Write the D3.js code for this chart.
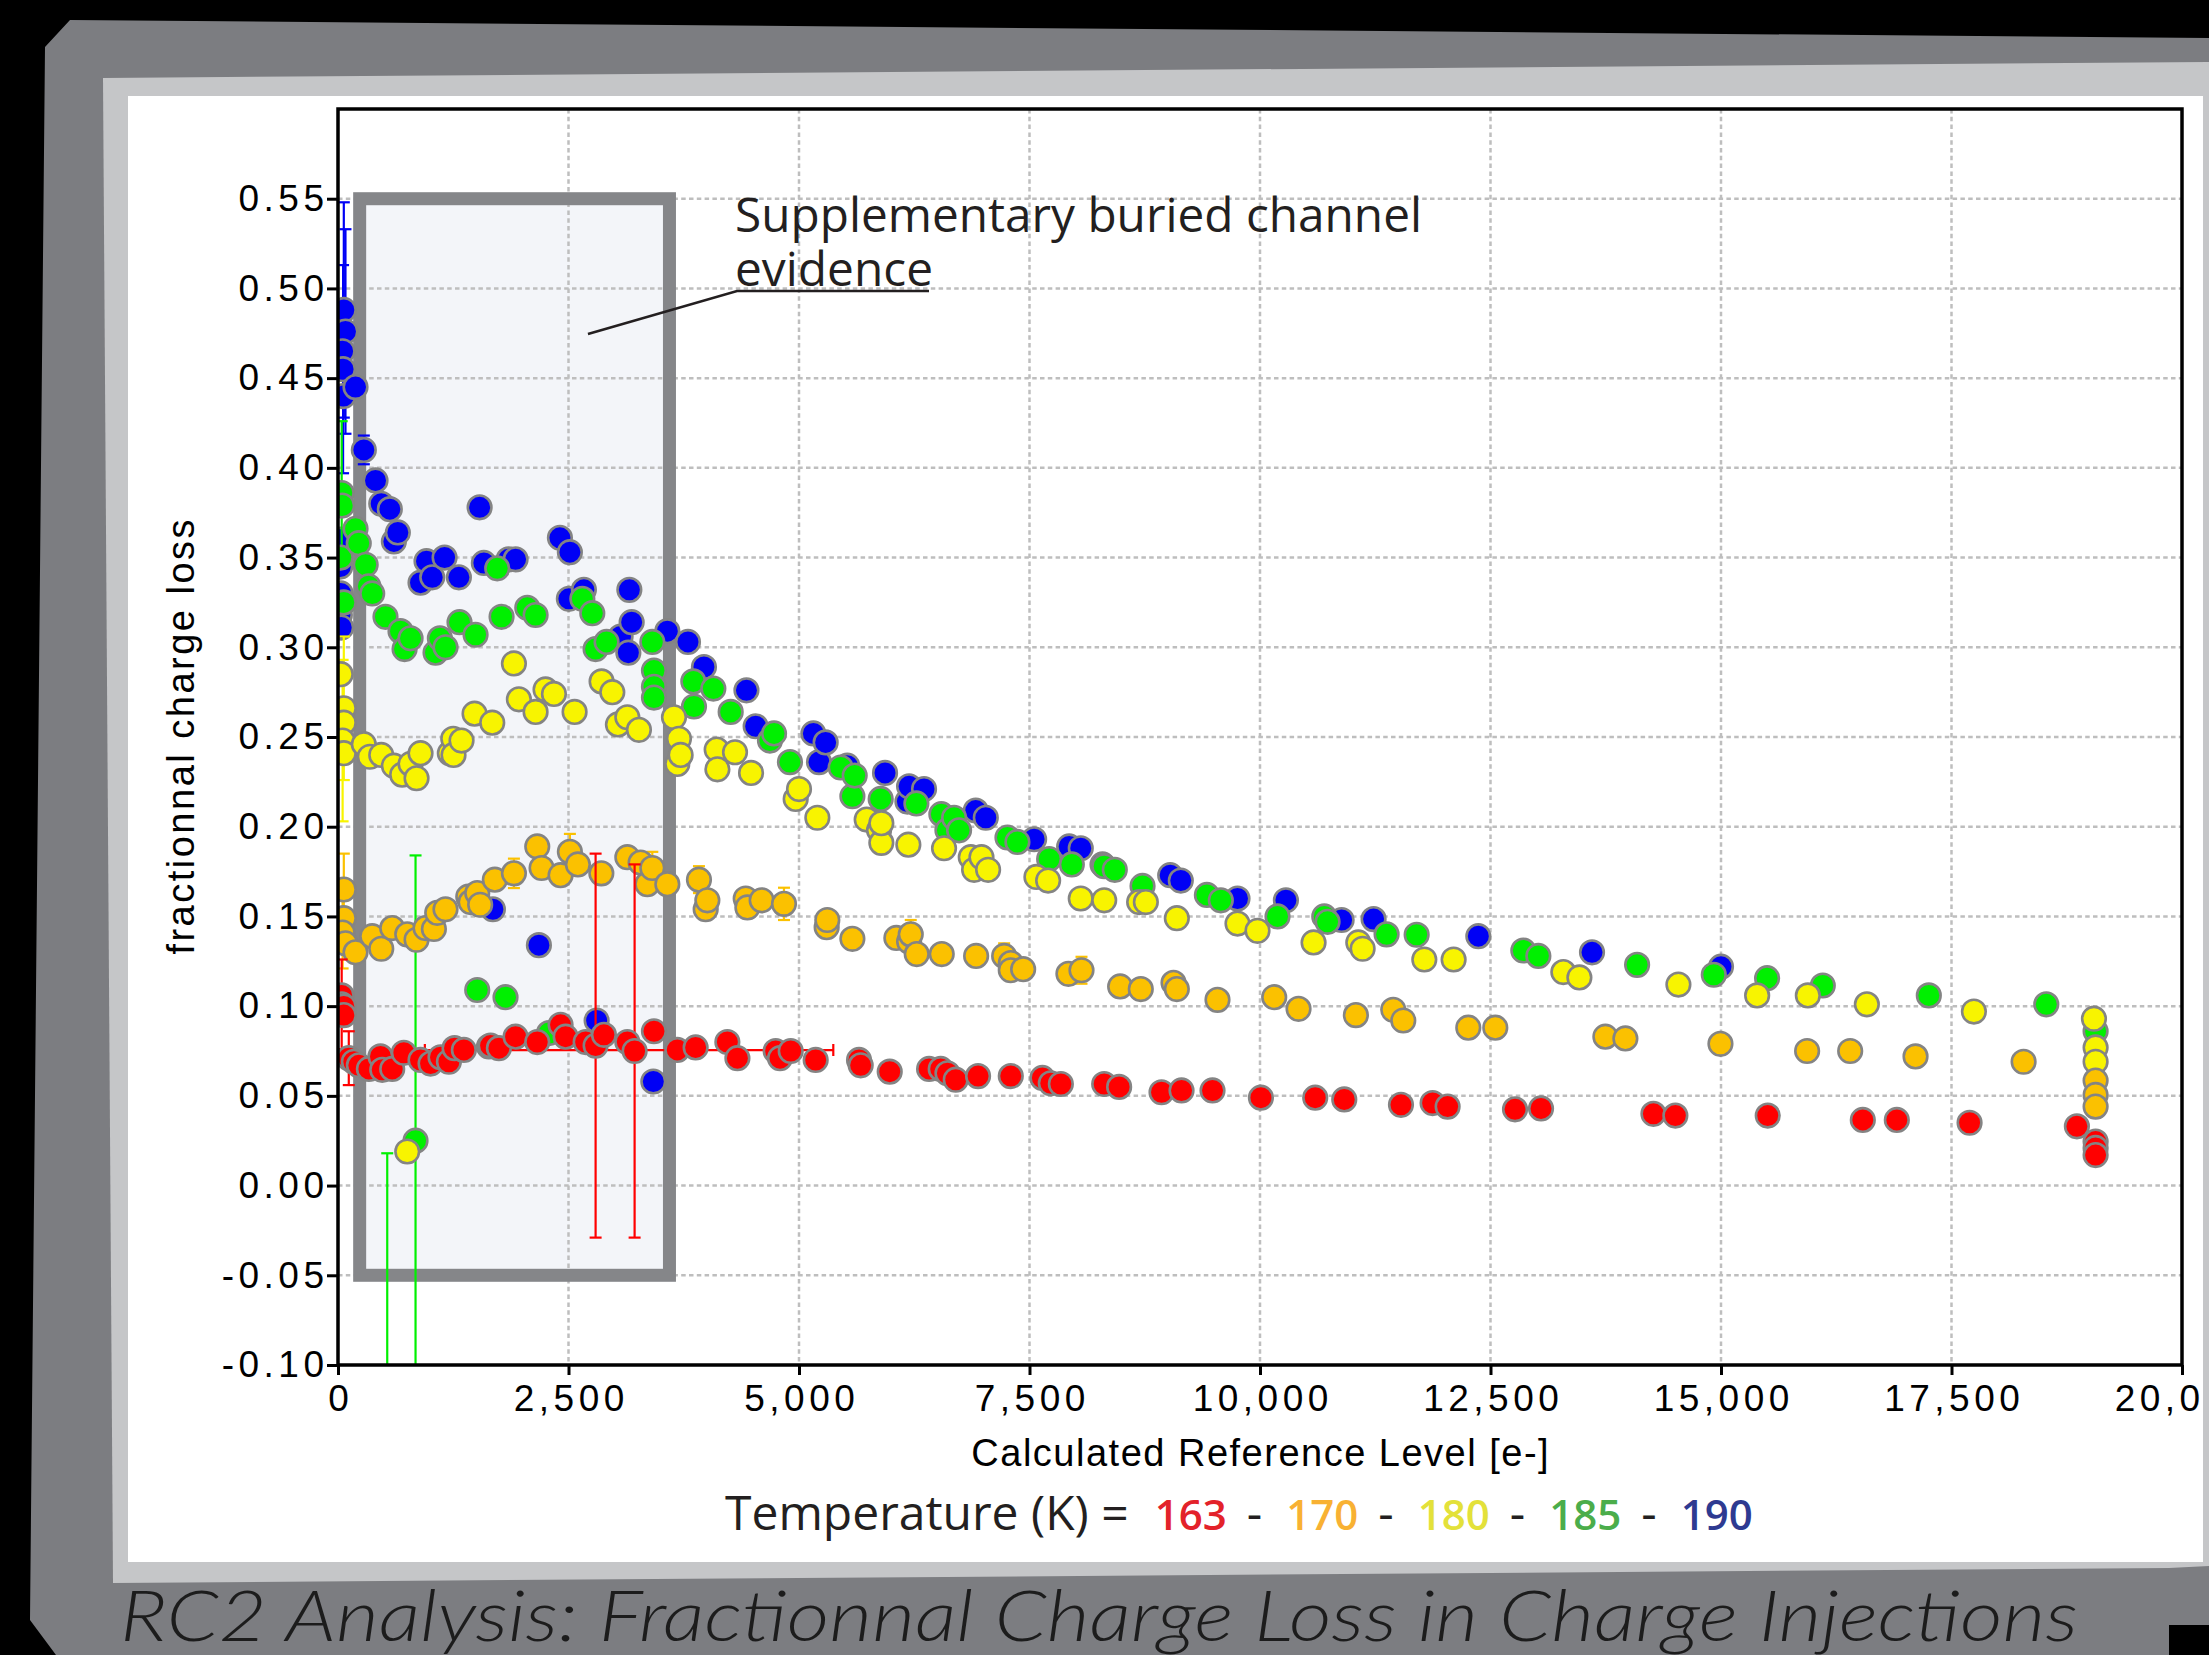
<!DOCTYPE html>
<html>
<head>
<meta charset="utf-8">
<script src="https://cdn.jsdelivr.net/npm/d3@7"></script>
<style>
  body { margin: 0; background: #000; }
  svg { display: block; }
</style>
</head>
<body>
<script>
// temperatures (K) and their colours
var temps = ["163", "170", "180", "185", "190"];
var dotColors = ["#ff0000", "#fbc100", "#f8f400", "#00f000", "#0000f5"];
var keyColors = ["#e3222a", "#f8b133", "#e3e13a", "#4bad4b", "#2e3a91"];

var xTicks = [0, 2500, 5000, 7500, 10000, 12500, 15000, 17500, 20000];
var yTicks = [-0.10, -0.05, 0.00, 0.05, 0.10, 0.15, 0.20, 0.25, 0.30, 0.35, 0.40, 0.45, 0.50, 0.55];

// [reference level (e-), fractional charge loss, error]
var k190 = [
  [20,0.318],[25,0.345],[30,0.33],[30,0.36],[35,0.311],
  [63,0.488,0.06],[81,0.476,0.057],[50,0.465],[55,0.455,0.058],[60,0.44],[190,0.445],
  [280,0.41,0.008],[407,0.393],[469,0.38],[562,0.377],[606,0.359],[649,0.364],
  [895,0.336],[960,0.348],[1022,0.339],[1156,0.350],[1311,0.339],[1536,0.378],[1582,0.347],
  [1850,0.349],[1926,0.349],[2407,0.361],[2504,0.327],[2515,0.353],[2667,0.332],
  [3065,0.306],[3149,0.297],[3160,0.332],[3185,0.314],[3572,0.309],[3796,0.303],[3969,0.289],
  [4430,0.276],[4530,0.256],[1680,0.154],[2179,0.134],[2805,0.092],[3420,0.058],
  [5156,0.252],[5217,0.236],[5289,0.247],[5524,0.234],[5933,0.230],[6176,0.214],[6194,0.2225],[6356,0.221],
  [6917,0.209],[7026,0.205],[7550,0.193],[7930,0.189],[8056,0.188],[8292,0.179],[9026,0.173],[9141,0.170],
  [9756,0.160],[10281,0.159],[10885,0.148],[11232,0.1485],[12368,0.139],[13601,0.130],[15000,0.122]
];
var k185 = [
  [30,0.350],[40,0.386,0.04],[45,0.379],[63,0.325],[190,0.366],[225,0.358],[300,0.346],[330,0.334],[371,0.330],
  [515,0.317],[678,0.309],[722,0.299],[787,0.305],[1058,0.297],[1105,0.305],[1166,0.300],[1318,0.314],[1492,0.307],
  [1727,0.344],[1774,0.317],[2053,0.322],[2143,0.318],[2650,0.327],[2758,0.319],[2794,0.299],[2913,0.303],
  [3409,0.303],[3427,0.287],[3427,0.278],[3427,0.272],[3854,0.281],[3861,0.267],[4071,0.277],[4259,0.264],
  [1510,0.109],[1817,0.105],[841,0.025,0.159],[534,-0.14,0.158],[2288,0.085],
  [4685,0.248],[4729,0.252],[4902,0.236],[5452,0.233],[5579,0.217],[5604,0.2285],[5886,0.2155],[6273,0.213],
  [6544,0.207],[6610,0.198],[6682,0.205],[6736,0.198],[7261,0.194],[7369,0.1915],[7713,0.182],[7959,0.179],
  [8310,0.178],[8425,0.176],[8726,0.167],[9424,0.162],[9575,0.159],[10190,0.150],[10697,0.150],[10733,0.147],
  [11373,0.140],[11699,0.1398],[12856,0.131],[13019,0.128],[14090,0.123],[14922,0.1175],[15500,0.1156],
  [16104,0.1115],[17254,0.106],[18528,0.101],[19063,0.086]
];
var k180 = [
  [30,0.285],[63,0.266,0.04],[63,0.258],[50,0.248,0.045],[63,0.241],[280,0.246],[345,0.239],[469,0.240],[606,0.234],
  [696,0.229],[787,0.235],[852,0.227],[895,0.241],[1213,0.241],[1250,0.249],[1253,0.240],[1340,0.248],[1481,0.263],
  [1673,0.258],[1908,0.291],[1962,0.271],[2143,0.264],[2251,0.2765],[2342,0.274],[2566,0.264],[2859,0.281],
  [2975,0.275],[3036,0.257],[3138,0.261],[3264,0.254],[3644,0.261],[3680,0.235],[3698,0.249],[3716,0.240],
  [4107,0.243],[4115,0.232],[4306,0.2415],[4480,0.230],[751,0.019],
  [4964,0.2155],[5000,0.221],[5199,0.205],[5734,0.204],[5868,0.198],[5893,0.191],[5893,0.202],[6186,0.190],
  [6573,0.188],[6863,0.183],[6899,0.176],[6979,0.183],[7051,0.176],[7575,0.172],[7702,0.170],[8056,0.160],
  [8310,0.159],[8689,0.158],[8762,0.158],[9098,0.149],[9756,0.146],[9973,0.142],[10581,0.1355],[11066,0.1355],
  [11113,0.132],[11782,0.126],[12100,0.126],[13290,0.119],[13464,0.116],[14538,0.112],[15392,0.106],[15942,0.106],
  [16582,0.101],[17743,0.097],[19045,0.093],[19063,0.077],[19063,0.069]
];
var k170 = [
  [63,0.165,0.02],[63,0.149],[50,0.141,0.02],[80,0.135],[190,0.130],[371,0.139],[469,0.132],[588,0.1435],[751,0.140],
  [852,0.137],[949,0.1435],[1040,0.143],[1076,0.152],[1166,0.154],[1413,0.161],[1438,0.158],[1510,0.163],[1542,0.1565],
  [1701,0.1705],[1908,0.174,0.0082],[2161,0.189],[2208,0.177],[2414,0.173],[2515,0.186,0.01],[2602,0.179],[2856,0.174],
  [3138,0.183],[3282,0.180],[3355,0.168],[3409,0.177,0.009],[3572,0.168],[3915,0.1705,0.0075],[3988,0.154],[4006,0.159],
  [4422,0.160],[4440,0.155],[4595,0.159],[4837,0.157,0.009],[5300,0.144],[5307,0.148],[5579,0.1375],[6056,0.138],
  [6194,0.136],[6212,0.140,0.008],[6277,0.129],[6548,0.129],[6921,0.128],[7225,0.128,0.007],[7297,0.124],[7297,0.120],
  [7431,0.1206],[7922,0.118],[8064,0.120,0.0075],[8483,0.111],[8707,0.1095],[9062,0.113],[9098,0.1095],[9539,0.1035],
  [10154,0.105],[10418,0.0985],[11040,0.095],[11445,0.098],[11554,0.092],[12259,0.088],[12552,0.088],[13746,0.083],
  [13963,0.082],[14994,0.079],[15934,0.075],[16401,0.075],[17110,0.072],[18282,0.069],[19063,0.0585],[19063,0.0505],
  [19063,0.044]
];
var k163 = [
  [40,0.106],[40,0.101,0.025],[63,0.0998],[63,0.095],[117,0.071,0.015],[172,0.069],[226,0.067],[335,0.065],[461,0.072],
  [480,0.0645],[588,0.065],[714,0.074],[895,0.070],[1004,0.068],[1112,0.0715],[1203,0.069],[1264,0.0766],[1365,0.0756],
  [1637,0.0775],[1655,0.078],[1745,0.0766],[1926,0.083],[2161,0.080],[2414,0.0896],[2469,0.083],[2686,0.080],
  [2794,0.078,0.107],[2884,0.084],[3138,0.080],[3217,0.075,0.104],[3427,0.086],[3680,0.0756],[3879,0.077],[4223,0.080],
  [4332,0.071],[4747,0.075],[4794,0.071],[4910,0.075],[5181,0.070],[5651,0.070],[5669,0.067],[5984,0.0635],[6411,0.065],
  [6537,0.065],[6610,0.0626],[6700,0.059],[6942,0.061],[7297,0.061],[7640,0.060],[7731,0.057],[7840,0.0566],[8310,0.0566],
  [8472,0.055],[8932,0.052],[9149,0.053],[9485,0.053],[10010,0.049],[10599,0.049],[10914,0.048],[11529,0.045],[11872,0.046],
  [12035,0.044],[12766,0.0425],[13048,0.043],[14267,0.040],[14505,0.039],[15507,0.039],[16538,0.0366],[16907,0.0366],
  [17696,0.035],[18860,0.033],[19063,0.0245],[19063,0.021],[19063,0.017]
];
// horizontal error bar of the 163 K run: [centre, loss, half width]
var k163xErr = [[3157, 0.0755, 2215]];

var series = [k163, k170, k180, k185, k190];

var margin = {top: 109, right: 27, bottom: 290, left: 338},
    width = 2209 - margin.left - margin.right,
    height = 1655 - margin.top - margin.bottom;

var svg = d3.select("body").append("svg")
    .attr("width", 2209)
    .attr("height", 1655);

// paper frame
svg.append("rect").attr("width", 2209).attr("height", 1655).attr("fill", "#000");
svg.append("polygon")
    .attr("points", "70,20 2209,38 2209,1625 2169,1625 2169,1655 56,1655 30,1620 45,47")
    .attr("fill", "#7c7d81");
svg.append("polygon")
    .attr("points", "103,78 2209,62 2209,1566 2169,1568 113,1583")
    .attr("fill", "#c5c6c8");
svg.append("rect")
    .attr("x", 128).attr("y", 96)
    .attr("width", 2075).attr("height", 1466)
    .attr("fill", "#fff");

var g = svg.append("g")
    .attr("transform", "translate(" + margin.left + "," + margin.top + ")");

var x = d3.scaleLinear().domain([0, 20000]).range([0, width]);
var y = d3.scaleLinear().domain([-0.10, 0.60]).range([height, 0]);

g.append("clipPath").attr("id", "plotclip")
  .append("rect").attr("width", width).attr("height", height);

// highlighted region (in data units)
var box = {x0: 235, x1: 3595, y0: -0.05, y1: 0.55};
g.append("rect")
    .attr("x", x(box.x0)).attr("y", y(box.y1))
    .attr("width", x(box.x1) - x(box.x0))
    .attr("height", y(box.y0) - y(box.y1))
    .attr("fill", "#f3f5f9");

// gridlines
g.append("g").selectAll("line")
    .data(xTicks.slice(1, -1))
    .enter().append("line")
    .attr("x1", function(d) { return x(d); })
    .attr("x2", function(d) { return x(d); })
    .attr("y1", 0).attr("y2", height)
    .attr("stroke", "#bebebe").attr("stroke-width", 2.5)
    .attr("stroke-dasharray", "4.5,3.3");
g.append("g").selectAll("line")
    .data(yTicks.slice(1))
    .enter().append("line")
    .attr("x1", 0).attr("x2", width)
    .attr("y1", function(d) { return y(d); })
    .attr("y2", function(d) { return y(d); })
    .attr("stroke", "#bebebe").attr("stroke-width", 2.5)
    .attr("stroke-dasharray", "4.5,3.3");

g.append("rect")
    .attr("x", x(box.x0)).attr("y", y(box.y1))
    .attr("width", x(box.x1) - x(box.x0))
    .attr("height", y(box.y0) - y(box.y1))
    .attr("fill", "none")
    .attr("stroke", "#858689").attr("stroke-width", 13);

// annotation
var note = g.append("g").attr("fill", "#231f20")
    .style("font-family", "'Open Sans', 'Noto Sans', sans-serif")
    .style("font-size", "47px");
note.append("text")
    .attr("x", x(4306)).attr("y", y(0.5314))
    .attr("textLength", 687).attr("lengthAdjust", "spacingAndGlyphs")
    .text("Supplementary buried channel");
note.append("text")
    .attr("x", x(4306)).attr("y", y(0.5014))
    .attr("textLength", 198).attr("lengthAdjust", "spacingAndGlyphs")
    .text("evidence");
g.append("path")
    .attr("d", d3.line()([[x(2711), y(0.4746)], [x(4328), y(0.4986)], [x(6410), y(0.4986)]]))
    .attr("fill", "none")
    .attr("stroke", "#231f20").attr("stroke-width", 2.5);

// points and error bars, 190 K first so 163 K ends on top
var marks = g.append("g").attr("clip-path", "url(#plotclip)");

function drawSeries(data, color) {
  var s = marks.append("g");
  var errs = data.filter(function(d) { return d.length > 2; });
  s.selectAll(".bar").data(errs).enter().append("line")
      .attr("x1", function(d) { return x(d[0]); })
      .attr("x2", function(d) { return x(d[0]); })
      .attr("y1", function(d) { return y(d[1] - d[2]); })
      .attr("y2", function(d) { return y(d[1] + d[2]); })
      .attr("stroke", color).attr("stroke-width", 2.2);
  [-1, 1].forEach(function(sign) {
    s.selectAll(".cap").data(errs).enter().append("line")
        .attr("x1", function(d) { return x(d[0]) - 6; })
        .attr("x2", function(d) { return x(d[0]) + 6; })
        .attr("y1", function(d) { return y(d[1] + sign * d[2]); })
        .attr("y2", function(d) { return y(d[1] + sign * d[2]); })
        .attr("stroke", color).attr("stroke-width", 2.2);
  });
  return s;
}

for (var i = series.length - 1; i >= 0; i--) {
  var s = drawSeries(series[i], dotColors[i]);
  if (i == 0) {
    s.selectAll(".hbar").data(k163xErr).enter().append("path")
        .attr("d", function(d) {
          var x0 = x(d[0] - d[2]), x1 = x(d[0] + d[2]), yy = y(d[1]);
          return "M" + x0 + "," + yy + "H" + x1 +
                 "M" + x0 + "," + (yy - 6) + "V" + (yy + 6) +
                 "M" + x1 + "," + (yy - 6) + "V" + (yy + 6);
        })
        .attr("fill", "none")
        .attr("stroke", dotColors[0]).attr("stroke-width", 2.2);
  }
  s.selectAll("circle").data(series[i]).enter().append("circle")
      .attr("cx", function(d) { return x(d[0]); })
      .attr("cy", function(d) { return y(d[1]); })
      .attr("r", 11.8)
      .attr("fill", dotColors[i])
      .attr("stroke", "#848484").attr("stroke-width", 2.6);
}

// axes
var loc = d3.formatLocale({decimal: ".", thousands: ",", grouping: [3], currency: ["", ""], minus: "-"});

var xAxis = g.append("g")
    .attr("transform", "translate(0," + height + ")")
    .call(d3.axisBottom(x).tickValues(xTicks).tickFormat(loc.format(","))
      .tickSize(10).tickPadding(10).tickSizeOuter(0));
var yAxis = g.append("g")
    .call(d3.axisLeft(y).tickValues(yTicks).tickFormat(loc.format(".2f"))
      .tickSize(11).tickPadding(3).tickSizeOuter(0));

[xAxis, yAxis].forEach(function(a) {
  a.select(".domain").remove();
  a.selectAll("line").attr("stroke", "#000").attr("stroke-width", 3);
  a.selectAll("text")
      .attr("fill", "#000")
      .style("font-family", "'Liberation Sans', Arial, sans-serif")
      .style("font-size", "37px")
      .style("letter-spacing", "4.5px");
});
xAxis.selectAll("text").attr("dx", 2.25);
yAxis.selectAll("text").attr("dx", 4.5);

// frame
g.append("rect")
    .attr("width", width).attr("height", height)
    .attr("fill", "none")
    .attr("stroke", "#000").attr("stroke-width", 3.5);

// axis titles
g.append("text")
    .attr("x", width / 2).attr("y", 1466 - margin.top)
    .attr("dx", 0.75)
    .style("text-anchor", "middle")
    .style("font-family", "'Liberation Sans', Arial, sans-serif")
    .style("font-size", "38px")
    .style("letter-spacing", "1.5px")
    .text("Calculated Reference Level [e-]");
g.append("text")
    .attr("transform", "translate(" + (194 - margin.left) + "," + (height / 2) + ") rotate(-90)")
    .attr("dx", 1.25)
    .style("text-anchor", "middle")
    .style("font-family", "'Liberation Sans', Arial, sans-serif")
    .style("font-size", "38px")
    .style("letter-spacing", "2.5px")
    .text("fractionnal charge loss");

// temperature key, laid out piece by piece
var key = svg.append("g")
    .style("font-family", "'Open Sans', 'Noto Sans', sans-serif");
var kx = 725, ky = 1530;
var lead = key.append("text")
    .attr("x", kx).attr("y", ky)
    .attr("fill", "#231f20")
    .style("font-size", "48px")
    .text("Temperature (K) =");
kx += lead.node().getComputedTextLength() + 26;
temps.forEach(function(t, i) {
  var num = key.append("text")
      .attr("x", kx).attr("y", ky)
      .attr("fill", keyColors[i])
      .style("font-size", "42px")
      .style("font-weight", 600)
      .text(t);
  kx += num.node().getComputedTextLength() + 20;
  if (i < temps.length - 1) {
    var dash = key.append("text")
        .attr("x", kx).attr("y", ky)
        .attr("fill", "#231f20")
        .style("font-size", "48px")
        .text("-");
    kx += dash.node().getComputedTextLength() + 24;
  }
});

// strip at the right edge hides the end of the last tick label
svg.append("rect")
    .attr("x", 2203).attr("y", 62)
    .attr("width", 6).attr("height", 1504)
    .attr("fill", "#c5c6c8");

// page title
svg.append("text")
    .attr("x", 120).attr("y", 1641)
    .attr("textLength", 1958).attr("lengthAdjust", "spacingAndGlyphs")
    .style("font-family", "Lato, 'DejaVu Sans', sans-serif")
    .style("font-style", "italic")
    .style("font-weight", 300)
    .style("font-size", "72px")
    .attr("fill", "#1c1c1c")
    .text("RC2 Analysis: Fractionnal Charge Loss in Charge Injections");
</script>
</body>
</html>
